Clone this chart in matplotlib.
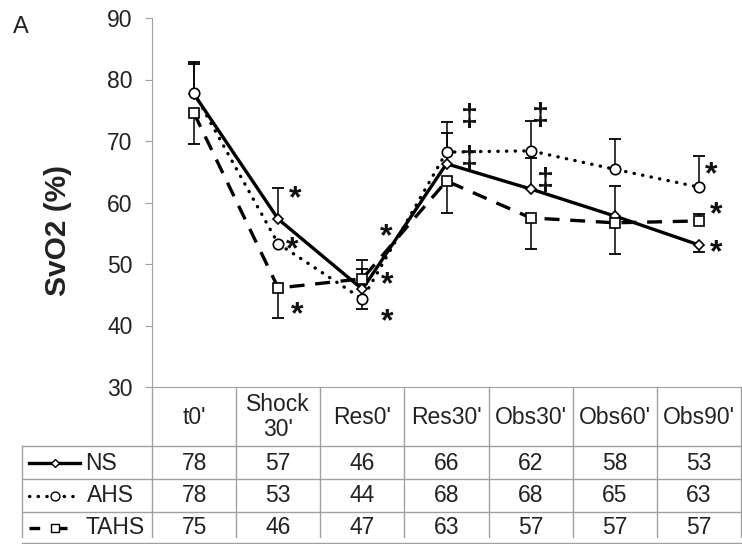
import matplotlib
matplotlib.use("Agg")
import matplotlib.pyplot as plt
import numpy as np

plt.rcParams["font.family"] = ["Liberation Sans", "DejaVu Sans"]

categories = ["t0'", "Shock\n30'", "Res0'", "Res30'", "Obs30'", "Obs60'", "Obs90'"]
series_names = ["NS", "AHS", "TAHS"]

ns = [77.6, 57.3, 45.9, 66.3, 62.2, 57.8, 53.1]
ahs = [77.8, 53.3, 44.3, 68.2, 68.4, 65.4, 62.5]
tahs = [74.5, 46.1, 47.6, 63.5, 57.5, 56.7, 57.0]

# where each one-sided error bar ends (nan = not visible)
ns_err_end = [82.8, 62.4, 49.2, 71.3, 67.2, 62.7, 51.9]
ahs_err_end = [82.5, np.nan, 42.7, 73.1, 73.2, 70.3, 67.6]
tahs_err_end = [69.5, 41.2, 50.7, 58.3, 52.4, 51.6, 58.1]

# values printed in the data table
ns_table = [78, 57, 46, 66, 62, 58, 53]
ahs_table = [78, 53, 44, 68, 68, 65, 63]
tahs_table = [75, 46, 47, 63, 57, 57, 57]

# significance marks: (category index, y value)
star_cats = [1, 1, 1, 2, 2, 2, 6, 6, 6]
star_y = [61.6, 53.3, 42.8, 55.5, 47.6, 41.6, 65.6, 59.1, 52.9]
star_dx = [0.2, 0.17, 0.22, 0.28, 0.3, 0.3, 0.15, 0.2, 0.2]
dagger_cats = [3, 3, 4, 4]
dagger_y = [73.7, 66.9, 73.9, 63.3]
dagger_dx = [0.27, 0.27, 0.12, 0.18]

GREY = "#a0a0a0"
W, H = 742, 544
FS = 16.5

fig = plt.figure(figsize=(W / 100, H / 100), dpi=100)
ax = fig.add_axes([152 / W, (H - 387) / H, 589 / W, 369 / H])

x = np.arange(len(categories))
styles = [
    dict(ls="-", marker="D", ms=5, label="NS"),
    dict(ls=(0, (0.1, 2.5)), marker="o", ms=7.5, label="AHS", dash_capstyle="round"),
    dict(ls=(0, (4.5, 3.2)), marker="s", ms=7.5, label="TAHS"),
]
values = [ns, ahs, tahs]
err_ends = [ns_err_end, ahs_err_end, tahs_err_end]

for vals, ends in zip(values, err_ends):
    ends = np.array(ends)
    ok = ~np.isnan(ends)
    ax.vlines(x[ok], np.array(vals)[ok], ends[ok], color="black", lw=1.1, zorder=2)
    ax.plot(x[ok], ends[ok], ls="none", marker="_", ms=8, mew=1.3,
            color="black", zorder=2)

for vals, st in zip(values, styles):
    ax.plot(x, vals, color="black", lw=2.4, mfc="white", mec="black", mew=1.2,
            zorder=3, **st)

for c, dx, y in zip(star_cats, star_dx, star_y):
    ax.annotate("*", (c + dx, y), xytext=(0, -5), textcoords="offset points",
                ha="center", va="center", fontsize=23, fontweight="bold", color="#111")
for c, dx, y in zip(dagger_cats, dagger_dx, dagger_y):
    ax.annotate("\u2021", (c + dx, y), xytext=(0, 0), textcoords="offset points",
                ha="center", va="center", fontsize=22, fontweight="bold", color="#111")

ax.set_xlim(-0.5, len(categories) - 0.5)
ax.set_ylim(30, 90)
ax.set_yticks(range(30, 91, 10))
ax.set_xticks([])
for side in ["top", "right"]:
    ax.spines[side].set_visible(False)
ax.spines["left"].set_color(GREY)
ax.spines["bottom"].set_color(GREY)
ax.tick_params(axis="y", length=5, color=GREY, pad=9, labelsize=16.5, labelcolor="#222")

fig.text(58 / W, 1 - 231 / H, "SvO2 (%)", rotation=90, ha="center", va="center",
         fontsize=21.5, fontweight="bold", color="#222")
fig.text(21 / W, 1 - 27 / H, "A", ha="center", va="center", fontsize=17, color="#222")

# data table under the plot
label_w = 130 / 84.14
tax = fig.add_axes([22 / W, 0, 719 / W, 157 / H])
tax.set_xlim(-0.5 - label_w, len(categories) - 0.5)
tax.set_ylim(157, 0)
tax.axis("off")

header_h, row_h, bottom = 59, 33, 150
for k in range(len(categories) + 1):
    tax.plot([k - 0.5, k - 0.5], [0, bottom], color=GREY, lw=1, clip_on=False)
tax.plot([-0.5 - label_w] * 2, [header_h, bottom], color=GREY, lw=1, clip_on=False)
for r in range(len(series_names)):
    yy = header_h + r * row_h
    tax.plot([-0.5 - label_w, len(categories) - 0.5], [yy, yy], color=GREY, lw=1)
tax.plot([-0.5 - label_w, len(categories) - 0.5], [156, 156], color=GREY, lw=1,
         clip_on=False)

for i, cat in enumerate(categories):
    tax.text(i, header_h / 2 + 0.5, cat, ha="center", va="center", fontsize=FS,
             color="#222", linespacing=1.1)

tables = [ns_table, ahs_table, tahs_table]
row_centers = [76, 109, 141]
for r, (name, row, st) in enumerate(zip(series_names, tables, styles)):
    yc = row_centers[r]
    for i, v in enumerate(row):
        tax.text(i, yc, str(v), ha="center", va="center", fontsize=FS, color="#222")
    # legend key in the label cell
    x0 = -0.5 - label_w + 7 / 84.14
    key_len = 51 / 84.14 if name != "TAHS" else 42 / 84.14
    kst = {k: v for k, v in st.items() if k not in ("marker", "ms", "label")}
    if name == "TAHS":
        kst["ls"] = (0, (3.2, 5.0))
    tax.plot([x0, x0 + key_len], [yc, yc], color="black", lw=2.4, **kst)
    tax.plot([x0 + 26 / 84.14], [yc], marker=st["marker"], ms=st["ms"] * 0.85,
             mfc="white", mec="black", mew=1.0, color="black")
    tax.text(x0 + 56 / 84.14 + (2 / 84.14 if name == "AHS" else 0), yc, name,
             ha="left", va="center", fontsize=FS, color="#222")

fig.savefig("out.png", dpi=100)
